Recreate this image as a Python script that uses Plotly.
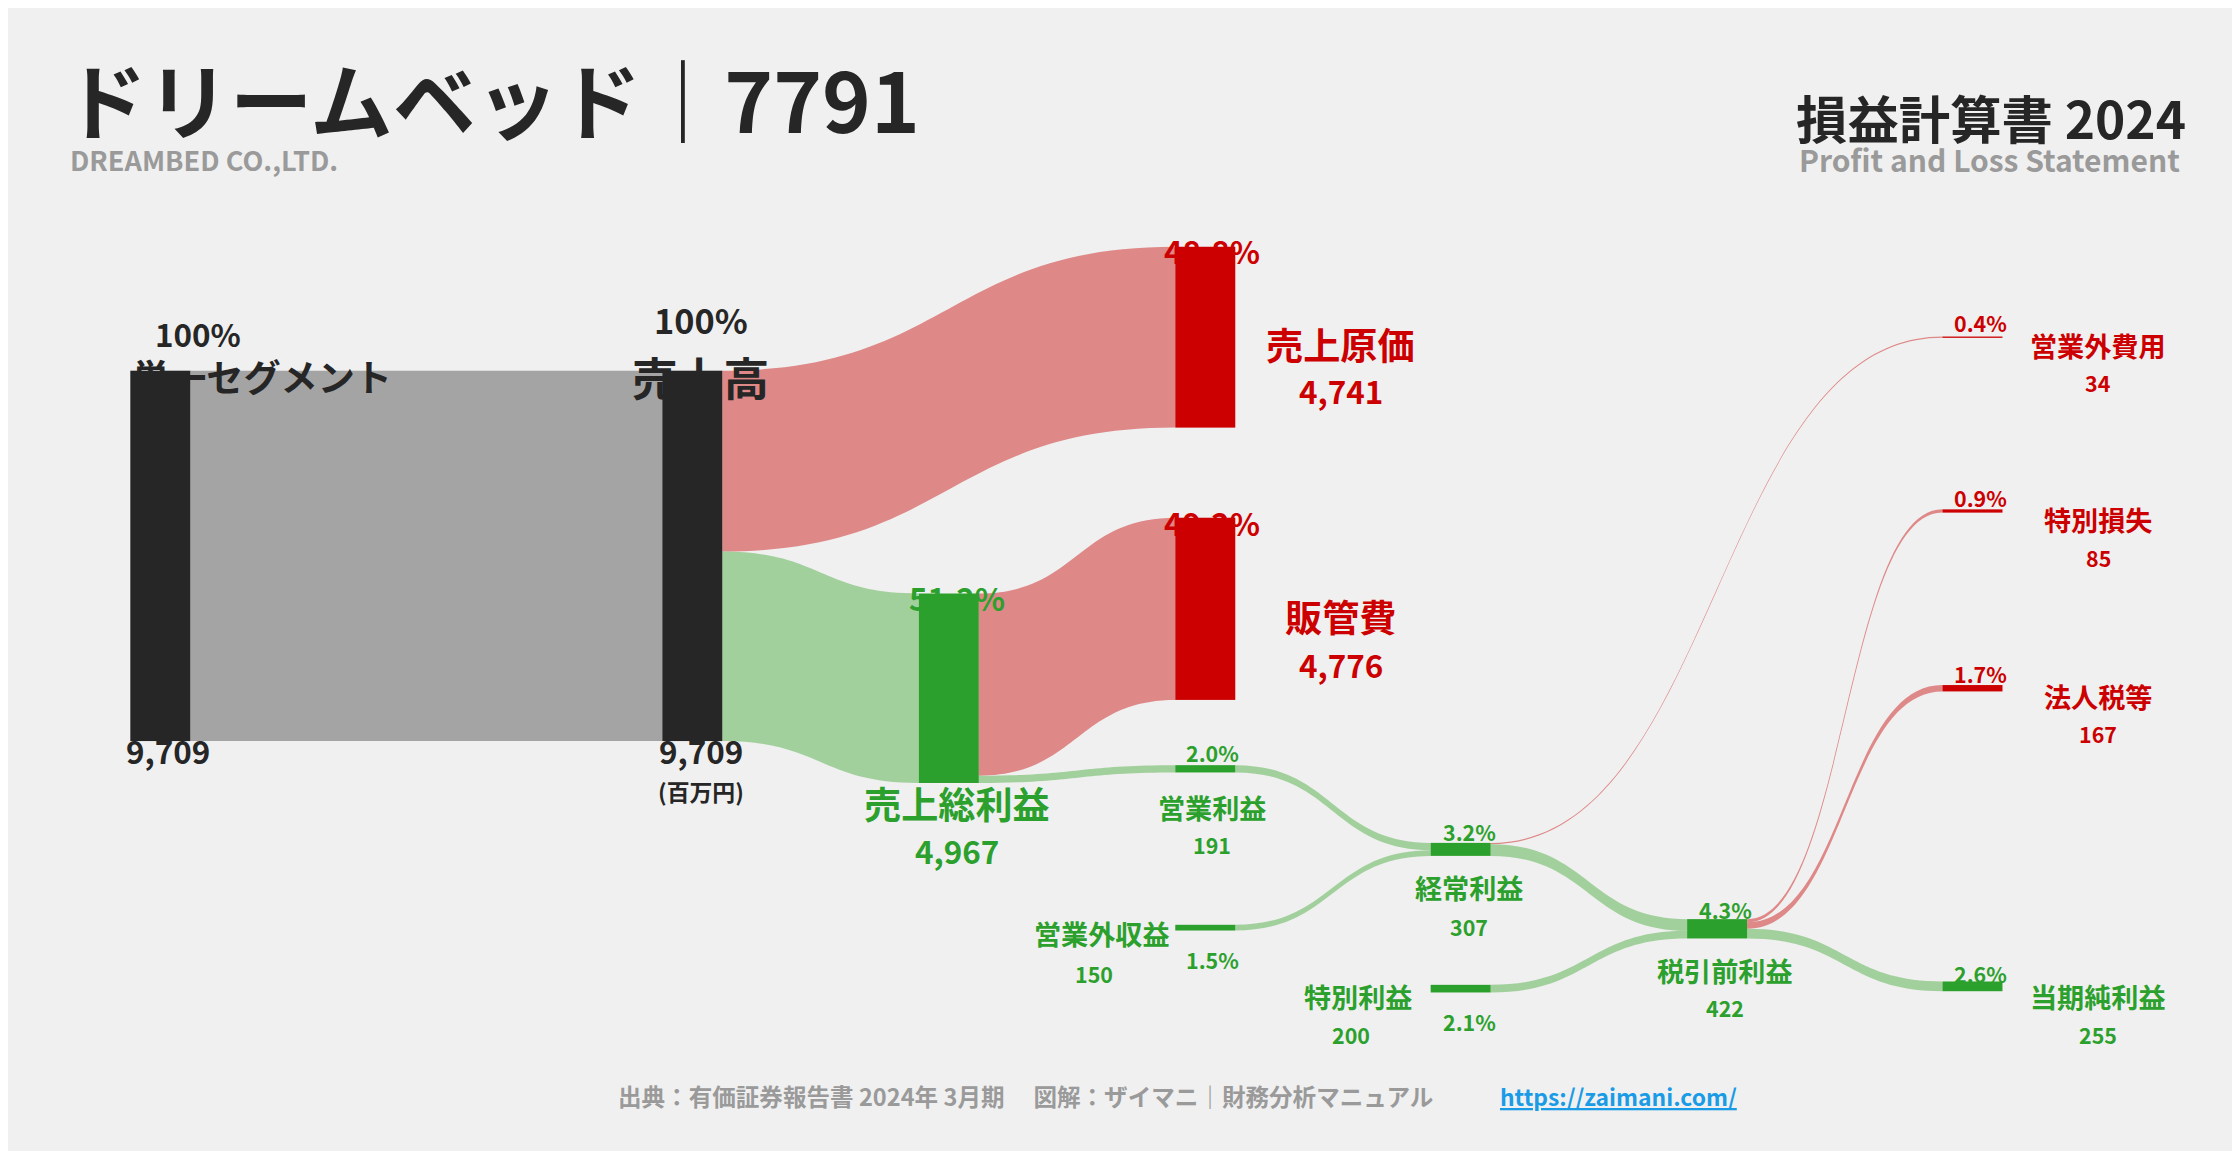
import plotly.graph_objects as go

W, H = 2240, 1151
S = W / 1568

node_names = ["単一セグメント", "売上高", "売上原価", "売上総利益", "販管費", "営業利益",
              "営業外収益", "経常利益", "特別利益", "税引前利益", "営業外費用", "特別損失",
              "法人税等", "当期純利益"]
node_colors = ["#262626", "#262626", "#cc0000", "#2ca02c", "#cc0000", "#2ca02c",
               "#2ca02c", "#2ca02c", "#2ca02c", "#2ca02c", "#cc0000", "#cc0000",
               "#cc0000", "#2ca02c"]
node_x = [0.068, 0.3055, 0.5345, 0.42, 0.5345, 0.5345, 0.5345, 0.6485, 0.6485, 0.763,
          0.877, 0.877, 0.877, 0.877]
node_y = [0.476, 0.476, 0.286, 0.591, 0.522, 0.661, 0.799, 0.731, 0.852, 0.800,
          0.286, 0.437, 0.591, 0.850]

link_src = [0, 1, 1, 3, 3, 5, 6, 7, 7, 8, 9, 9, 9]
link_tgt = [1, 2, 3, 4, 5, 7, 7, 10, 9, 9, 11, 12, 13]
link_val = [9709, 4741, 4967, 4776, 191, 191, 150, 34, 307, 200, 85, 167, 255]
GRAY, RED, GREEN = "rgba(150,150,150,0.85)", "rgba(214,80,80,0.65)", "rgba(120,190,110,0.65)"
link_col = [GRAY, RED, GREEN, RED, GREEN, GREEN, GREEN, RED, GREEN, GREEN, RED, RED, GREEN]

fig = go.Figure(go.Sankey(
    arrangement="fixed",
    domain=dict(x=[0, 1], y=[0, 1]),
    node=dict(label=[""] * len(node_names), color=node_colors, x=node_x, y=node_y,
              pad=290, thickness=60, line=dict(width=0)),
    link=dict(source=link_src, target=link_tgt, value=link_val, color=link_col),
    textfont=dict(size=1, color="rgba(0,0,0,0)"),
))

DARK, GR, RD, GN = "#262626", "#9a9a9a", "#cc0000", "#2ca02c"
F = "Noto Sans CJK JP"
labels = [
    ("ドリームベッド｜7791", 38, 62, 58, DARK, "left"),
    ("DREAMBED CO.,LTD.", 42, 106, 19, GR, "left"),
    ("損益計算書 2024", 1526, 76, 36, DARK, "right"),
    ("Profit and Loss Statement", 1522, 106, 21, GR, "right"),
    ("100%", 133, 228, 22, DARK, "center"),
    ("単一セグメント", 178, 258, 26, DARK, "center"),
    ("100%", 485, 218, 24, DARK, "center"),
    ("売上高", 485, 258, 32, DARK, "center"),
    ("9,709", 112, 520, 22, DARK, "center"),
    ("9,709", 485, 520, 22, DARK, "center"),
    ("(百万円)", 485, 548, 16, DARK, "center"),
    ("48.8%", 843, 170, 22, RD, "center"),
    ("売上原価", 933, 235, 26, RD, "center"),
    ("4,741", 933, 268, 22, RD, "center"),
    ("49.2%", 843, 360, 22, RD, "center"),
    ("販管費", 933, 426, 26, RD, "center"),
    ("4,776", 933, 460, 22, RD, "center"),
    ("51.2%", 664, 413, 22, GN, "center"),
    ("売上総利益", 664, 557, 26, GN, "center"),
    ("4,967", 664, 590, 22, GN, "center"),
    ("2.0%", 843, 521, 15, GN, "center"),
    ("営業利益", 843, 560, 19, GN, "center"),
    ("191", 843, 586, 15, GN, "center"),
    ("営業外収益", 815, 648, 19, GN, "right"),
    ("150", 760, 676, 15, GN, "center"),
    ("1.5%", 843, 666, 15, GN, "center"),
    ("3.2%", 1023, 577, 15, GN, "center"),
    ("経常利益", 1023, 616, 19, GN, "center"),
    ("307", 1023, 643, 15, GN, "center"),
    ("特別利益", 985, 692, 19, GN, "right"),
    ("200", 940, 719, 15, GN, "center"),
    ("2.1%", 1023, 710, 15, GN, "center"),
    ("4.3%", 1202, 631, 15, GN, "center"),
    ("税引前利益", 1202, 674, 19, GN, "center"),
    ("422", 1202, 700, 15, GN, "center"),
    ("0.4%", 1381, 220, 15, RD, "center"),
    ("営業外費用", 1463, 236, 19, RD, "center"),
    ("34", 1463, 262, 15, RD, "center"),
    ("0.9%", 1381, 343, 15, RD, "center"),
    ("特別損失", 1463, 358, 19, RD, "center"),
    ("85", 1463, 385, 15, RD, "center"),
    ("1.7%", 1381, 466, 15, RD, "center"),
    ("法人税等", 1463, 482, 19, RD, "center"),
    ("167", 1463, 508, 15, RD, "center"),
    ("2.6%", 1381, 676, 15, GN, "center"),
    ("当期純利益", 1463, 692, 19, GN, "center"),
    ("255", 1463, 719, 15, GN, "center"),
    ("出典：有価証券報告書 2024年 3月期　 図解：ザイマニ｜財務分析マニュアル", 712, 762, 16.5, GR, "center"),
    ("<u>https://zaimani.com/</u>", 1127, 762, 16, "#1a9be6", "center"),
]
anns = []
for t, xd, yd, sz, c, a in labels:
    anns.append(dict(text=f"<b>{t}</b>", x=xd / 1568, y=1 - yd / 806, xref="paper", yref="paper",
                     xanchor=a, yanchor="middle", showarrow=False,
                     font=dict(family=F, size=sz * S, color=c)))

fig.update_layout(width=W, height=H, margin=dict(l=0, r=0, t=0, b=0),
                  paper_bgcolor="#f0f0f0", plot_bgcolor="#f0f0f0", annotations=anns,
                  font=dict(family=F))
fig.write_html("out.html")
